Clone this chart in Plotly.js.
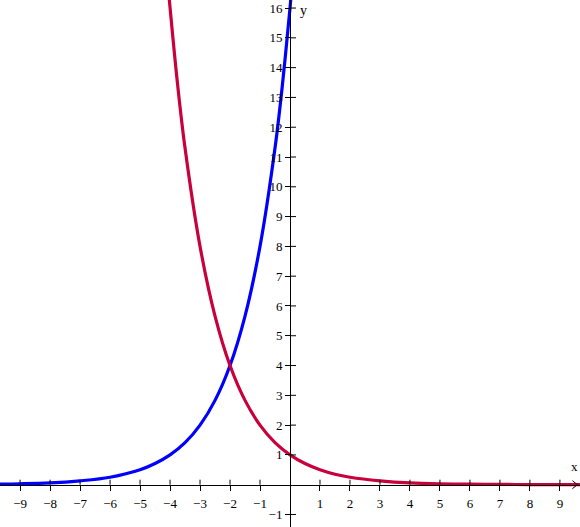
<!DOCTYPE html>
<html>
<head>
<meta charset="utf-8">
<script src="https://cdn.plot.ly/plotly-3.0.1.min.js"></script>
<style>html,body{margin:0;padding:0;background:#fff;}#chart{width:580px;height:527px;}</style>
</head>
<body>
<div id="chart"></div>
<script>
// Blue curve (rising) points
const blueX = [-9.7, -9, -8, -7, -6, -5, -4.5, -4, -3.5, -3, -2.5, -2, -1.5, -1, -0.5, -0.25, 0, 0.04];
const blueY = [0.02, 0.03, 0.06, 0.13, 0.25, 0.5, 0.71, 1, 1.41, 2, 2.83, 4, 5.66, 8, 11.3, 13.45, 16, 16.45];
// Red curve (falling) points
const redX = [-4.04, -3.75, -3.5, -3, -2.5, -2, -1.5, -1, -0.5, 0, 0.5, 1, 1.5, 2, 3, 4, 5, 6, 7, 8, 9, 9.7];
const redY = [16.45, 13.45, 11.3, 8, 5.66, 4, 2.83, 2, 1.41, 1, 0.71, 0.5, 0.35, 0.25, 0.13, 0.06, 0.03, 0.02, 0.01, 0.005, 0.002, 0.001];
// Tick values / labels
const xTickVals = [-9, -8, -7, -6, -5, -4, -3, -2, -1, 1, 2, 3, 4, 5, 6, 7, 8, 9];
const xTickText = ['\u22129', '\u22128', '\u22127', '\u22126', '\u22125', '\u22124', '\u22123', '\u22122', '\u22121', '1', '2', '3', '4', '5', '6', '7', '8', '9'];
const yTickVals = [-1, 1, 2, 3, 4, 5, 6, 7, 8, 9, 10, 11, 12, 13, 14, 15, 16];
const yTickText = ['\u22121', '1', '2', '3', '4', '5', '6', '7', '8', '9', '10', '11', '12', '13', '14', '15', '16'];
const xRange = [-9.67, 9.67];
const yRange = [-1.42, 16.27];

const font = {family: '"Liberation Serif", "Times New Roman", serif', size: 13, color: '#000'};

const shapes = [];
xTickVals.forEach(v => shapes.push({type: 'line', xref: 'x', yref: 'y', ysizemode: 'pixel', yanchor: 0,
  x0: v, x1: v, y0: 0, y1: 5, line: {color: '#000', width: 1}}));
yTickVals.forEach(v => shapes.push({type: 'line', xref: 'x', yref: 'y', xsizemode: 'pixel', xanchor: 0,
  x0: 0, x1: 6, y0: v, y1: v, line: {color: '#000', width: 1}}));
// arrow head on x axis
shapes.push({type: 'path', xref: 'x', yref: 'y', xsizemode: 'pixel', ysizemode: 'pixel', xanchor: 9.55, yanchor: 0,
  path: 'M -4 -4 L 1 0 L -4 4', line: {color: '#000', width: 1}});

const data = [
  {x: blueX, y: blueY, type: 'scatter', mode: 'lines', line: {color: '#0000ff', width: 3.2, shape: 'spline'}, hoverinfo: 'skip'},
  {x: redX, y: redY, type: 'scatter', mode: 'lines', line: {color: '#c8003c', width: 3.2, shape: 'spline'}, hoverinfo: 'skip'}
];

const layout = {
  width: 580, height: 527,
  margin: {l: 0, r: 0, t: 0, b: 0},
  paper_bgcolor: '#fff', plot_bgcolor: '#fff',
  showlegend: false,
  font: font,
  xaxis: {range: xRange, anchor: 'free', position: (0 - yRange[0]) / (yRange[1] - yRange[0]),
    showgrid: false, zeroline: false, showline: true, linecolor: '#000', linewidth: 1,
    tickmode: 'array', tickvals: xTickVals, ticktext: xTickText, ticks: 'outside', ticklen: 5, tickcolor: '#000',
    tickfont: font, ticklabeloverflow: 'allow', ticklabelstandoff: 2, fixedrange: true},
  yaxis: {range: yRange, anchor: 'free', position: (0 - xRange[0]) / (xRange[1] - xRange[0]),
    showgrid: false, zeroline: false, showline: true, linecolor: '#000', linewidth: 1,
    tickmode: 'array', tickvals: yTickVals, ticktext: yTickText, ticks: 'outside', ticklen: 5, tickcolor: '#000',
    tickfont: font, ticklabeloverflow: 'allow', fixedrange: true},
  shapes: shapes,
  annotations: [
    {x: 9.6, y: 0, xref: 'x', yref: 'y', text: 'x', showarrow: false, yshift: 18, xshift: -3, font: font},
    {x: 0, y: yRange[1], xref: 'x', yref: 'y', text: 'y', showarrow: false, xanchor: 'left', yanchor: 'top', xshift: 8, yshift: -1, font: Object.assign({}, font, {size: 14})}
  ]
};

Plotly.newPlot('chart', data, layout, {displayModeBar: false, staticPlot: true});
</script>
</body>
</html>
